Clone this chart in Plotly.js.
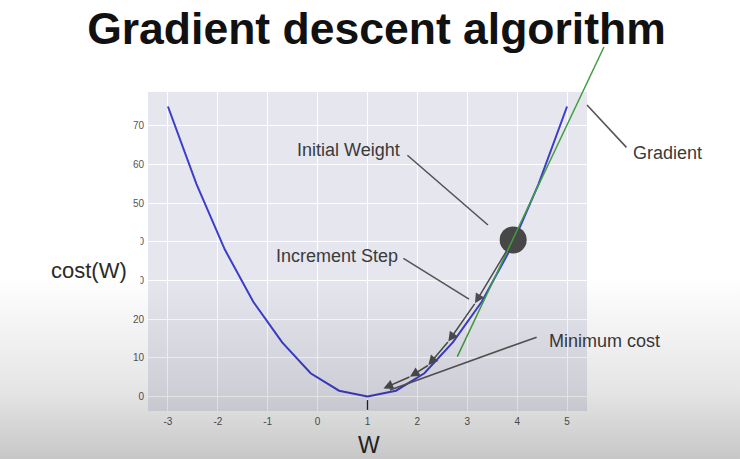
<!DOCTYPE html>
<html>
<head>
<meta charset="utf-8">
<script src="https://cdn.plot.ly/plotly-3.0.1.min.js"></script>
<style>
  html, body { margin:0; padding:0; background:#ffffff; }
  #wrap { position:relative; width:740px; height:459px; overflow:hidden; background:#ffffff; }
  #chart { position:absolute; left:0; top:0; width:740px; height:459px; }
  #shade { position:absolute; left:0; top:0; width:740px; height:459px; pointer-events:none;
           background:linear-gradient(to bottom, rgba(0,0,0,0) 0%, rgba(0,0,0,0) 60%, rgba(0,0,0,0.10) 85%, rgba(0,0,0,0.22) 100%); }
</style>
</head>
<body>
<div id="wrap"><div id="chart"></div><div id="shade"></div></div>
<script>
// ---- data ----
const wValues    = [-3, -2.43, -1.86, -1.29, -0.71, -0.14, 0.43, 1.0, 1.57, 2.14, 2.71, 3.29, 3.86, 4.43, 5.0];
const costValues = [75, 55, 38, 24.5, 14, 6, 1.5, 0, 1.5, 6, 14, 24.5, 38, 55, 75];
const tangentW    = [2.80, 5.74];
const tangentCost = [10.3, 90.4];
const initialW    = [3.92];
const initialCost = [40.5];
const stepW    = [3.92, 3.155, 2.62, 2.22, 1.85, 1.32];
const stepCost = [40.5, 24.1, 14.2, 8.1, 5.1, 2.1];
const minMarkW = [1];
const minMarkCost = [-2.2];
const xTicks = [-3, -2, -1, 0, 1, 2, 3, 4, 5];
const xTickText = ['-3', '-2', '-1', '0', '1', '2', '3', '4', '5'];
const yTicks = [0, 10, 20, 30, 40, 50, 60, 70];
const titleText = 'Gradient descent algorithm';
const xLabel = 'W';
const yLabel = 'cost(W)';
const labelInitial = 'Initial Weight';
const labelStep = 'Increment Step';
const labelMin = 'Minimum cost';
const labelGrad = 'Gradient';

// ---- layout geometry ----
const W = 740, H = 459;
const plotL = 148, plotR = 587, plotT = 92, plotB = 411;
const xRange = [-3.4, 5.4];
const yRange = [-3.75, 78.75];
const pxPerX = (plotR - plotL) / (xRange[1] - xRange[0]);
const pxPerY = (plotB - plotT) / (yRange[1] - yRange[0]);
const x2Range = [xRange[0] - plotL / pxPerX, xRange[1] + (W - plotR) / pxPerX];
const y2Range = [yRange[0] - (H - plotB) / pxPerY, yRange[1] + plotT / pxPerY];

const blue = '#3d3dcc', green = '#3f9e3f', grey = '#4d4d4d', lineGrey = '#555555';
const fam = 'Liberation Sans, Arial, sans-serif';
const textFont = {family: fam, size: 18, color: '#3a3a3a'};

const traces = [
  {x: wValues, y: costValues, type: 'scatter', mode: 'lines', xaxis: 'x', yaxis: 'y',
   line: {color: blue, width: 2}, hoverinfo: 'skip'},
  {x: minMarkW, y: minMarkCost, type: 'scatter', mode: 'markers', xaxis: 'x', yaxis: 'y',
   marker: {symbol: 'line-ns-open', size: 7, color: '#222', line: {width: 1.3, color: '#222'}}, hoverinfo: 'skip'},
  {x: initialW, y: initialCost, type: 'scatter', mode: 'markers', xaxis: 'x', yaxis: 'y',
   marker: {size: 27, color: '#474747'}, hoverinfo: 'skip'},
  {x: tangentW, y: tangentCost, type: 'scatter', mode: 'lines', xaxis: 'x2', yaxis: 'y2',
   line: {color: green, width: 1.5}, hoverinfo: 'skip'}
];

const annotations = [];
// descent step arrows
for (let i = 1; i < stepW.length; i++) {
  annotations.push({
    x: stepW[i], y: stepCost[i], xref: 'x', yref: 'y',
    ax: stepW[i - 1], ay: stepCost[i - 1], axref: 'x', ayref: 'y',
    text: '', showarrow: true, arrowhead: 2, arrowsize: 1.3, arrowwidth: 1.5,
    arrowcolor: grey, standoff: 0, startstandoff: i === 1 ? 12 : 0,
    font: {size: 1}, borderpad: 0
  });
}
// pointer lines (full-paper axes share the data scale)
const pointers = [
  [1.79, 62.5, 3.415, 44.35],
  [1.71, 35.8, 3.035, 25.2],
  [4.40, 15.4, 1.45, 1.7],
  [6.20, 64.3, 5.40, 75.4]
];
pointers.forEach(p => annotations.push({
  x: p[2], y: p[3], xref: 'x2', yref: 'y2', ax: p[0], ay: p[1], axref: 'x2', ayref: 'y2',
  text: '', showarrow: true, arrowhead: 0, arrowwidth: 1.6, arrowcolor: lineGrey,
  standoff: 0, startstandoff: 0, font: {size: 1}, borderpad: 0
}));
function paperText(txt, cx, cy, font) {
  annotations.push({text: txt, x: cx / W, y: 1 - cy / H, xref: 'paper', yref: 'paper',
    xanchor: 'center', yanchor: 'middle', showarrow: false, font: font});
}
paperText(labelInitial, 348, 150, textFont);
paperText(labelStep, 337, 256, textFont);
paperText(labelMin, 604, 341, textFont);
paperText(labelGrad, 667, 153, textFont);
// white box of the y label (covers part of two tick labels, as in the slide)
annotations.push({text: ' ', x: 89.75 / W, y: 1 - 262 / H, xref: 'paper', yref: 'paper',
  xanchor: 'center', yanchor: 'middle', showarrow: false, width: 99.5, height: 56,
  bgcolor: '#ffffff', borderpad: 0, font: {size: 10}});
paperText(yLabel, 89, 270, {family: fam, size: 22, color: '#2a2a2a'});
paperText(xLabel, 369, 445, {family: fam, size: 23, color: '#2a2a2a'});

const axisCommon = {showgrid: true, gridcolor: '#ffffff', gridwidth: 1, zeroline: false,
  showline: false, ticks: '', tickfont: {family: fam, size: 10, color: '#555555'},
  fixedrange: true};

const layout = {
  width: W, height: H,
  margin: {l: 0, r: 0, t: 0, b: 0, pad: 0},
  paper_bgcolor: 'rgba(0,0,0,0)', plot_bgcolor: 'rgba(0,0,0,0)',
  showlegend: false,
  title: {text: '<b>' + titleText + '</b>', x: 376.5 / W, xanchor: 'center', y: 1 - 28 / H, yanchor: 'middle',
    yref: 'container', xref: 'container',
    font: {family: fam, size: 44.5, color: '#111111'}},
  xaxis: Object.assign({}, axisCommon, {domain: [plotL / W, plotR / W], range: xRange,
    tickmode: 'array', tickvals: xTicks, ticktext: xTickText, anchor: 'y', ticklabelstandoff: 3}),
  yaxis: Object.assign({}, axisCommon, {domain: [1 - plotB / H, 1 - plotT / H], range: yRange,
    tickmode: 'array', tickvals: yTicks, anchor: 'x', ticklabelstandoff: 3}),
  xaxis2: {domain: [0, 1], range: x2Range, visible: false, anchor: 'y2', fixedrange: true},
  yaxis2: {domain: [0, 1], range: y2Range, visible: false, anchor: 'x2', fixedrange: true},
  shapes: [{type: 'rect', xref: 'x domain', yref: 'y domain', x0: 0, x1: 1, y0: 0, y1: 1,
    fillcolor: '#e6e6ef', line: {width: 0}, layer: 'below'}],
  annotations: annotations
};

Plotly.newPlot('chart', traces, layout, {staticPlot: true, displayModeBar: false});
</script>
</body>
</html>
